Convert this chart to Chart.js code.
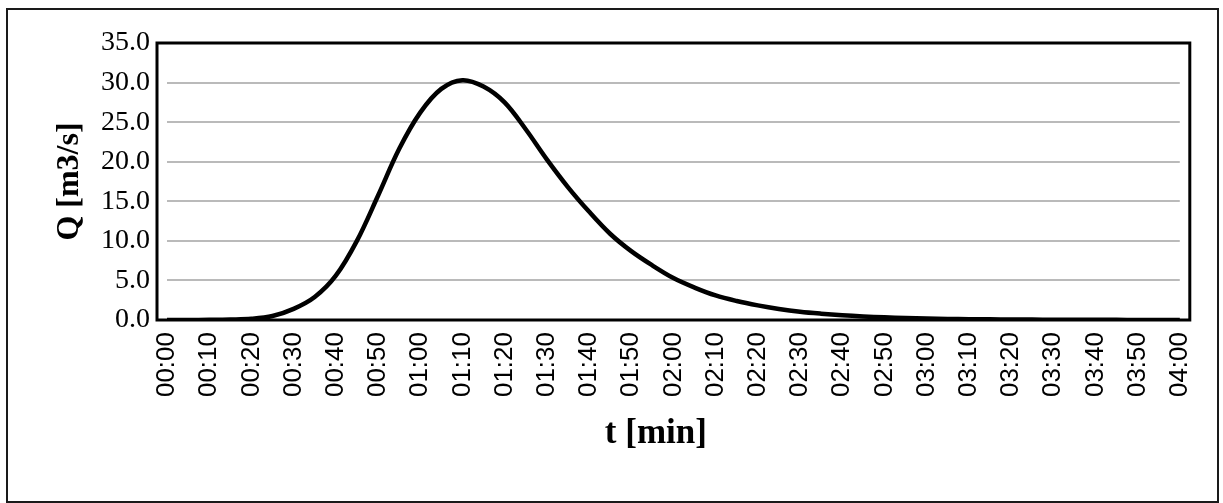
<!DOCTYPE html>
<html>
<head>
<meta charset="utf-8">
<script src="https://cdn.jsdelivr.net/npm/chart.js@4"></script>
<style>
  html, body { margin: 0; padding: 0; background: #fff; }
  #wrap { width: 1223px; height: 503px; }
</style>
</head>
<body>
<div id="wrap"><canvas id="hydrograph" width="1223" height="503"></canvas></div>
<script>
// time steps, every 5 min
const timeLabels = [
  "00:00", "00:05", "00:10", "00:15", "00:20", "00:25", "00:30", "00:35", "00:40", "00:45",
  "00:50", "00:55", "01:00", "01:05", "01:10", "01:15", "01:20", "01:25", "01:30", "01:35",
  "01:40", "01:45", "01:50", "01:55", "02:00", "02:05", "02:10", "02:15", "02:20", "02:25",
  "02:30", "02:35", "02:40", "02:45", "02:50", "02:55", "03:00", "03:05", "03:10", "03:15",
  "03:20", "03:25", "03:30", "03:35", "03:40", "03:45", "03:50", "03:55", "04:00"
];

// discharge Q [m3/s]
const discharge = [
  0.0, 0.0, 0.02, 0.06, 0.15, 0.5, 1.4, 2.9, 5.6, 10.0,
  15.7, 21.6, 26.2, 29.2, 30.3, 29.5, 27.5, 24.1, 20.3, 16.8,
  13.7, 10.9, 8.7, 6.9, 5.3, 4.1, 3.1, 2.4, 1.85, 1.4,
  1.05, 0.8, 0.6, 0.45, 0.34, 0.25, 0.18, 0.13, 0.1, 0.08,
  0.06, 0.05, 0.04, 0.03, 0.02, 0.02, 0.01, 0.01, 0.01
];

const yTicks = [0, 5, 10, 15, 20, 25, 30, 35];

// frame around the whole figure and the plot box (a bit wider than the data area)
const framePlugin = {
  id: "frames",
  afterDraw(chart) {
    const ctx = chart.ctx;
    const area = chart.chartArea;
    ctx.save();
    ctx.strokeStyle = "#000";
    ctx.lineWidth = 3;
    ctx.strokeRect(area.left - 10, area.top, area.right - area.left + 20, area.bottom - area.top);
    ctx.lineWidth = 2;
    ctx.strokeStyle = "#1a1a1a";
    ctx.strokeRect(7, 9, 1211, 493);
    ctx.restore();
  }
};

const ctx = document.getElementById("hydrograph").getContext("2d");

new Chart(ctx, {
  type: "line",
  data: {
    labels: timeLabels,
    datasets: [
      {
        label: "Q",
        data: discharge,
        borderColor: "#000",
        borderWidth: 4.5,
        pointRadius: 0,
        fill: false,
        tension: 0.35,
      },
    ],
  },
  options: {
    responsive: false,
    animation: false,
    layout: {
      padding: { left: 43, right: 36, top: 43, bottom: 48 },
    },
    plugins: {
      legend: { display: false },
      tooltip: { enabled: false },
    },
    scales: {
      x: {
        type: "category",
        offset: false,
        afterFit: (scale) => { scale.height = 135; },
        grid: { display: false, drawTicks: false },
        border: { display: false },
        ticks: {
          autoSkip: false,
          minRotation: 90,
          maxRotation: 90,
          padding: 12,
          color: "#000",
          font: { family: "'Liberation Sans', Arial", size: 26 },
          callback: function (value, index) {
            return index % 2 === 0 ? timeLabels[index] : null;
          },
        },
        title: {
          display: true,
          // trailing spaces nudge the centred title a little to the left, as in the original
          text: "t [min]    ",
          color: "#000",
          padding: { top: 0, bottom: 0 },
          font: { family: "'Liberation Serif', 'Times New Roman'", size: 35, weight: "bold" },
        },
      },
      y: {
        min: 0,
        max: 35,
        afterFit: (scale) => { scale.width = 124; },
        afterBuildTicks: (scale) => { scale.ticks = yTicks.map((v) => ({ value: v })); },
        grid: { color: "#bababa", lineWidth: 2, drawTicks: false },
        border: { display: false },
        ticks: {
          padding: 17,
          color: "#000",
          font: { family: "'Liberation Serif', 'Times New Roman'", size: 28 },
          callback: (v) => v.toFixed(1),
        },
        title: {
          display: true,
          text: "Q [m3/s]",
          color: "#000",
          padding: { top: 8, bottom: 0 },
          font: { family: "'Liberation Serif', 'Times New Roman'", size: 32, weight: "bold" },
        },
      },
    },
  },
  plugins: [framePlugin],
});
</script>
</body>
</html>
